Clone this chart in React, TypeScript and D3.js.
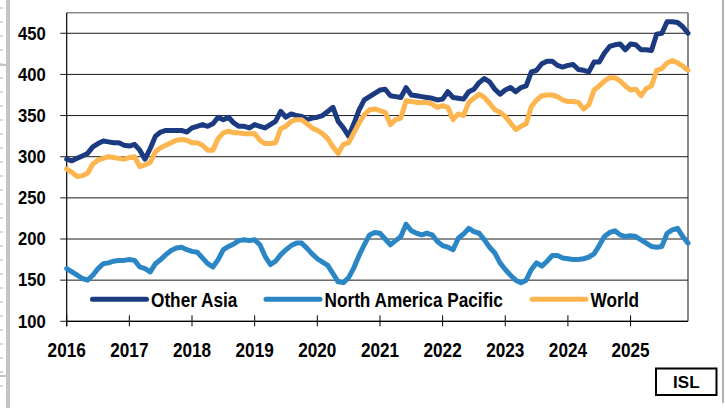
import * as d3 from "d3";

// monthly index, Jan 2016 .. Dec 2025
const years = ["2016", "2017", "2018", "2019", "2020", "2021", "2022", "2023", "2024", "2025"];
const yTicks = [100, 150, 200, 250, 300, 350, 400, 450];

const otherAsia = [
  297, 295, 298, 301, 304, 312, 316, 319, 318, 317, 317, 314,
  313, 315, 308, 297, 310, 325, 330, 332, 332, 332, 332, 330,
  335, 337, 339, 337, 340, 348, 345, 348, 341, 337, 337, 335,
  339, 337, 335, 339, 343, 355, 348, 352, 350, 349, 345, 347,
  348, 350, 355, 360, 343, 335, 325, 340, 357, 369, 373, 377,
  381, 382, 374, 373, 372, 384, 375, 374, 373, 372, 371, 369,
  370, 379, 372, 371, 370, 379, 382, 390, 395, 391, 382, 376,
  381, 384, 379, 384, 386, 403, 405, 413, 416, 416, 411, 409,
  411, 412, 406, 405, 403, 415, 415, 426, 434, 436, 437, 430,
  437, 436, 430, 430, 429, 449, 450, 464, 464, 463, 458, 450,
];

const northAmericaPacific = [
  164, 160, 156, 152, 150, 156, 164, 170, 171, 173, 174, 174,
  175, 174, 166, 164, 160, 170, 175, 181, 186, 189, 190, 187,
  185, 184, 177, 170, 166, 175, 187, 191, 194, 198, 199, 198,
  199, 193, 179, 169, 173, 181, 187, 192, 195, 195, 189, 182,
  176, 172, 168, 158, 148, 147, 153, 165, 180, 193, 205, 208,
  207, 200, 193, 198, 203, 218, 210, 207, 205, 207, 205, 197,
  192, 190, 187, 201, 206, 213, 209, 207, 199, 190, 183, 171,
  163, 156, 150, 147, 150, 163, 171, 167, 173, 180, 180, 177,
  176, 175, 175, 176, 178, 182, 192, 203, 208, 210, 205, 203,
  204, 203, 199, 195, 191, 190, 191, 207, 211, 213, 203, 195,
];

const world = [
  285, 281, 276, 277, 280, 291, 296, 298, 300, 299, 298, 297,
  299, 300, 288, 290, 293, 306, 311, 314, 317, 320, 321, 320,
  317, 317, 314, 308, 308, 322, 329, 331, 329, 329, 328, 328,
  328, 320, 316, 316, 317, 334, 337, 343, 345, 345, 340, 335,
  332, 328, 322, 312, 304, 315, 317, 329, 341, 351, 357, 358,
  356, 354, 339, 345, 347, 368, 367, 366, 366, 366, 364, 360,
  362, 360, 345, 352, 350, 366, 371, 376, 372, 365, 357, 354,
  349, 341, 333, 337, 340, 361, 369, 374, 375, 375, 373, 369,
  367, 367, 366, 358, 363, 381, 386, 392, 396, 396, 392, 386,
  381, 382, 374, 383, 386, 405, 407, 414, 417, 414, 410, 405,
];

const seriesNames = ["Other Asia", "North America Pacific", "World"];
const seriesData = [otherAsia, northAmericaPacific, world];
const seriesColors = ["#1b3a80", "#2b86c6", "#fdb54f"];

const FONT = "'Liberation Sans', Arial, Helvetica, sans-serif";

function Txt({ x, y, size, sx = 1, anchor = "start", children }: any) {
  return (
    <text
      transform={`translate(${x},${y}) scale(${sx},1)`}
      fontSize={size}
      fontWeight="bold"
      fontFamily={FONT}
      textAnchor={anchor}
      fill="#000"
    >
      {children}
    </text>
  );
}

export default function App() {
  const W = 725, H = 408;
  const left = 66.7, right = 688, top = 12.7;

  const x = d3.scaleLinear().domain([0, otherAsia.length - 1]).range([left, right]);
  const y = d3.scaleLinear().domain([100, 475]).range([321.3, top]);

  const line = d3.line<number>()
    .x((_, i) => x(i))
    .y(d => y(d));

  // legend sits inside the plot, along the bottom
  const legendY = 299.3;
  const legendX = [92.5, 266, 532];
  const legendLen = 54;

  return (
    <svg width={W} height={H} style={{ position: "absolute", left: 0, top: 0, background: "#fff" }}>
      {/* clipped neighbouring panel on the left / frame on the right */}
      <rect x={6} y={0} width={4} height={H} fill="#c4c4c4" />
      <line x1={0} x2={9} y1={65} y2={65} stroke="#c4c4c4" strokeWidth={2} />
      <line x1={0} x2={9} y1={376} y2={376} stroke="#c4c4c4" strokeWidth={2} />
      {d3.range(8, 400, 14).map(v => (
        <line key={v} x1={0} x2={3} y1={v} y2={v} stroke="#c8c8c8" strokeWidth={1.5} />
      ))}
      <line x1={723} x2={723} y1={0} y2={403} stroke="#9a9a9a" strokeWidth={1.5} />

      {/* plot frame */}
      <line x1={left} x2={right} y1={top} y2={top} stroke="#8a8a8a" strokeWidth={1.5} />
      <line x1={right} x2={right} y1={top} y2={y(100)} stroke="#8a8a8a" strokeWidth={2} />

      {/* gridlines + y ticks */}
      {yTicks.map(t => (
        <g key={t}>
          <line x1={left - 6.5} x2={right} y1={y(t)} y2={y(t)} stroke="#1a1a1a" strokeWidth={1} />
          <Txt x={45.7} y={y(t) + 6.3} size={18.5} sx={0.9} anchor="end">{t}</Txt>
        </g>
      ))}

      {/* axes */}
      <line x1={left} x2={left} y1={top} y2={y(100) + 5} stroke="#000" strokeWidth={1.2} />
      <line x1={left} x2={right} y1={y(100)} y2={y(100)} stroke="#000" strokeWidth={1.2} />
      {years.map((yr, i) => (
        <g key={yr}>
          <line x1={x(i * 12)} x2={x(i * 12)} y1={y(100) - 6} y2={y(100) + 5} stroke="#000" strokeWidth={1} />
          <Txt x={x(i * 12)} y={357.3} size={19.5} sx={0.88} anchor="middle">{yr}</Txt>
        </g>
      ))}

      {/* series */}
      {seriesData.map((s, i) => (
        <path
          key={seriesNames[i]}
          d={line(s) || ""}
          fill="none"
          stroke={seriesColors[i]}
          strokeWidth={5}
          strokeLinejoin="round"
          strokeLinecap="round"
        />
      ))}

      {/* legend */}
      {seriesNames.map((n, i) => (
        <g key={n}>
          <line
            x1={legendX[i]}
            x2={legendX[i] + legendLen}
            y1={legendY}
            y2={legendY}
            stroke={seriesColors[i]}
            strokeWidth={5}
            strokeLinecap="round"
          />
          <Txt x={legendX[i] + legendLen + 4.5} y={306.6} size={20.5} sx={0.84}>{n}</Txt>
        </g>
      ))}

      {/* source box */}
      <rect x={656} y={368.5} width={60.5} height={26.5} fill="#fff" stroke="#000" strokeWidth={2} />
      <Txt x={686.3} y={388.3} size={17} anchor="middle">ISL</Txt>
    </svg>
  );
}
